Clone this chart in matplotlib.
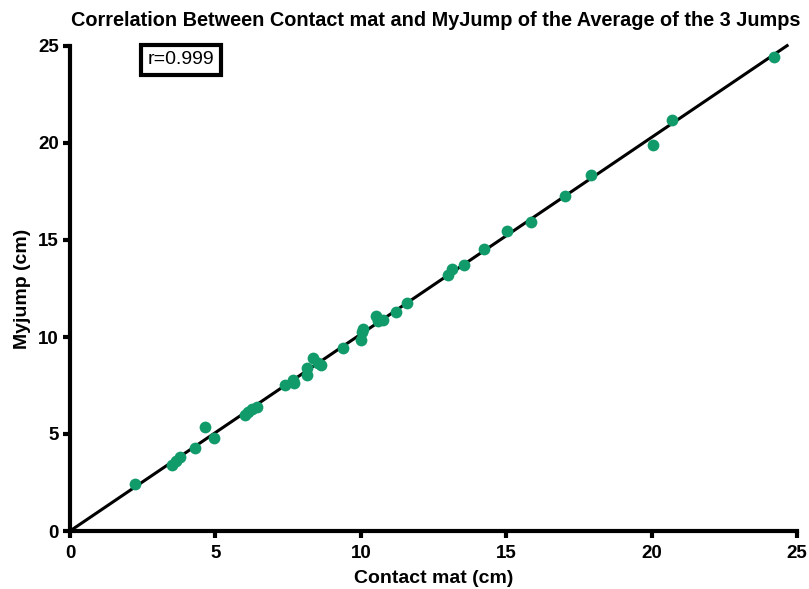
import matplotlib
matplotlib.use("Agg")
import matplotlib.pyplot as plt
import numpy as np

plt.rcParams['font.family'] = ['Liberation Sans', 'DejaVu Sans']

contact_mat = [2.24, 3.51, 3.65, 3.78, 4.30, 4.64, 4.95, 6.02, 6.12, 6.27, 6.42,
               7.39, 7.67, 7.70, 8.15, 8.15, 8.36, 8.53, 8.62, 9.39, 10.0, 10.04,
               10.08, 10.52, 10.59, 10.76, 11.21, 11.60, 13.0, 13.14, 13.55, 14.24,
               15.03, 15.85, 17.02, 17.92, 20.05, 20.70, 24.21]
myjump = [2.42, 3.40, 3.61, 3.81, 4.28, 5.36, 4.79, 5.96, 6.13, 6.30, 6.40,
          7.55, 7.78, 7.62, 8.04, 8.40, 8.92, 8.66, 8.56, 9.43, 9.85, 10.26,
          10.41, 11.08, 10.82, 10.90, 11.29, 11.75, 13.20, 13.50, 13.71, 14.54,
          15.46, 15.93, 17.27, 18.35, 19.90, 21.19, 24.43]
x_ticks = [0, 5, 10, 15, 20, 25]
y_ticks = [0, 5, 10, 15, 20, 25]
title = "Correlation Between Contact mat and MyJump of the Average of the 3 Jumps"
r_label = "r=0.999"

x = np.array(contact_mat)
y = np.array(myjump)
slope = np.sum(x * y) / np.sum(x * x)

fig = plt.figure(figsize=(8.09, 5.89), dpi=100)
ax = fig.add_axes([70/809, 58/589, 727/809, 485/589])

xl = np.array([0, 24.66])
ax.plot(xl, slope * xl, color='black', lw=2.2, clip_on=False, zorder=2)
ax.scatter(x, y, s=72, color='#129b6a', zorder=3, clip_on=False, linewidths=0)

ax.set_xlim(0, 25)
ax.set_ylim(0, 25)
ax.set_xticks(x_ticks)
ax.set_yticks(y_ticks)
for s in ['top', 'right']:
    ax.spines[s].set_visible(False)
for s in ['left', 'bottom']:
    ax.spines[s].set_linewidth(3)
ax.tick_params(axis='x', width=3, length=5, direction='out', labelsize=13.5, pad=5)
ax.tick_params(axis='y', width=3, length=5, direction='out', labelsize=13.5, pad=3)
for lab in ax.get_xticklabels() + ax.get_yticklabels():
    lab.set_fontweight('bold')

ax.set_xlabel("Contact mat (cm)", fontsize=14, fontweight='bold', labelpad=6)
ax.set_ylabel("Myjump (cm)", fontsize=14, fontweight='bold', labelpad=5)
fig.text(436/809, 1 - 20/589, title, ha='center', va='center', fontsize=14.3, fontweight='bold')

ax.text(3.82, 24.28, r_label, fontsize=14, ha='center', va='center',
        bbox=dict(boxstyle='square,pad=0.35', fc='white', ec='black', lw=3))

fig.savefig("out.png", dpi=100)
